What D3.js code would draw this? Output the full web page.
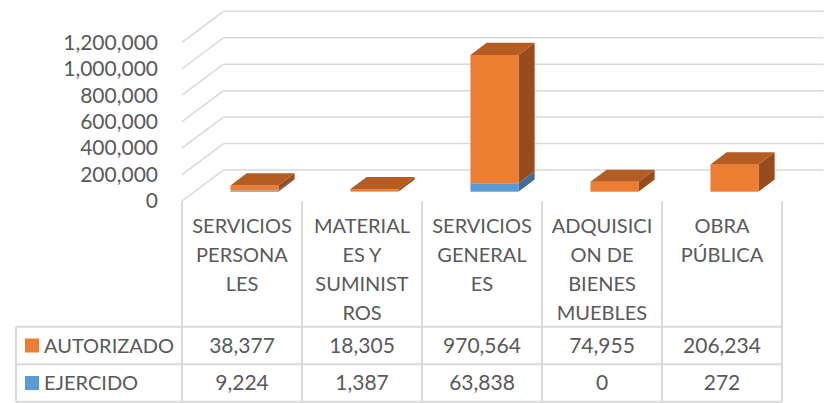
<!DOCTYPE html>
<html>
<head>
<meta charset="utf-8">
<script src="https://cdn.jsdelivr.net/npm/d3@7"></script>
<style>
  body { margin: 0; background: #fff; }
  text { font-family: Lato, "Open Sans", sans-serif; fill: #595959; }
</style>
</head>
<body>
<div id="chart"></div>
<script>
const categories = ["SERVICIOS PERSONALES", "MATERIALES Y SUMINISTROS", "SERVICIOS GENERALES", "ADQUISICION DE BIENES MUEBLES", "OBRA PÚBLICA"];
const categoryLines = [
    ["SERVICIOS", "PERSONA", "LES"],
    ["MATERIAL", "ES Y", "SUMINIST", "ROS"],
    ["SERVICIOS", "GENERAL", "ES"],
    ["ADQUISICI", "ON DE", "BIENES", "MUEBLES"],
    ["OBRA", "PÚBLICA"]
];
const seriesNames = ["AUTORIZADO", "EJERCIDO"];
const autorizado = [38377, 18305, 970564, 74955, 206234];
const ejercido = [9224, 1387, 63838, 0, 272];
const yTicks = [0, 200000, 400000, 600000, 800000, 1000000, 1200000];

const W = 826, H = 403;
const ORANGE = "#ED7D31", ORANGE_TOP = "#B55C22", ORANGE_SIDE = "#984C1B";
const BLUE = "#5B9BD5", BLUE_TOP = "#4A84B8", BLUE_SIDE = "#3F6E98";
const GRID = "#d9d9d9";

// depth vector of the 3D floor (front -> back)
const depth = { dx: 41.5, dy: -31 };
const barDepth = { t0: 0.3, t1: 0.69 };

const svg = d3.select("#chart").append("svg")
    .attr("width", W)
    .attr("height", H);

const x = d3.scaleBand()
    .domain(categories)
    .range([182, 782]);

const y = d3.scaleLinear()
    .domain([0, 1200000])
    .range([201, 42.3]);

const fmt = d3.format(",");

// Gridlines: side wall diagonal + back wall
let grid = svg.append("g");
yTicks.forEach(function (v) {
    let yf = y(v);
    grid.append("line")
        .attr("x1", 182).attr("y1", yf)
        .attr("x2", 182 + depth.dx).attr("y2", yf + depth.dy)
        .attr("stroke", GRID).attr("stroke-width", 1.5);
    grid.append("line")
        .attr("x1", 182 + depth.dx).attr("y1", yf + depth.dy)
        .attr("x2", 782 + depth.dx).attr("y2", yf + depth.dy)
        .attr("stroke", GRID).attr("stroke-width", 1.5);
});

// Value axis labels
svg.append("g").selectAll("text")
    .data(yTicks)
    .enter().append("text")
    .attr("x", 158)
    .attr("y", d => y(d))
    .attr("dy", "0.35em")
    .attr("text-anchor", "end")
    .style("font-size", "21px")
    .text(d => fmt(d));

// Bars
const barW = 48;
const ox0 = depth.dx * barDepth.t0, oy0 = depth.dy * barDepth.t0;
const bdx = depth.dx * (barDepth.t1 - barDepth.t0), bdy = depth.dy * (barDepth.t1 - barDepth.t0);

function box(g, x0, yb, yt, front, top, side, drawTop) {
    let x1 = x0 + barW;
    if (yb - yt <= 0 && !drawTop) return;
    g.append("polygon")
        .attr("points", [[x1, yb], [x1 + bdx, yb + bdy], [x1 + bdx, yt + bdy], [x1, yt]].join(" "))
        .attr("fill", side);
    g.append("rect")
        .attr("x", x0).attr("y", yt)
        .attr("width", barW).attr("height", Math.max(0, yb - yt))
        .attr("fill", front);
    if (drawTop) {
        g.append("polygon")
            .attr("points", [[x0, yt], [x1, yt], [x1 + bdx, yt + bdy], [x0 + bdx, yt + bdy]].join(" "))
            .attr("fill", top);
    }
}

let bars = svg.append("g");
categories.forEach(function (c, i) {
    let x0 = x(c) + x.bandwidth() / 2 - barW / 2 + ox0;
    let yb = y(0) + oy0;
    let yMid = y(ejercido[i]) + oy0;
    let yTop = y(ejercido[i] + autorizado[i]) + oy0;
    let g = bars.append("g");
    box(g, x0, yb, yMid, BLUE, BLUE_TOP, BLUE_SIDE, false);
    box(g, x0, yMid, yTop, ORANGE, ORANGE_TOP, ORANGE_SIDE, true);
});

// Data table
const tableTop = 201, headBottom = 326.7, row1Bottom = 364.3, row2Bottom = 401.7;
const tableLeft = 16, tableRight = 782;
let table = svg.append("g");

[headBottom, row1Bottom, row2Bottom].forEach(function (yy) {
    table.append("line")
        .attr("x1", tableLeft).attr("x2", tableRight)
        .attr("y1", yy).attr("y2", yy)
        .attr("stroke", GRID).attr("stroke-width", 2);
});
table.append("line")
    .attr("x1", tableLeft).attr("x2", tableLeft)
    .attr("y1", headBottom).attr("y2", row2Bottom)
    .attr("stroke", GRID).attr("stroke-width", 2);
categories.concat([null]).forEach(function (c, i) {
    let xx = i < categories.length ? x(c) : x.range()[1];
    table.append("line")
        .attr("x1", xx).attr("x2", xx)
        .attr("y1", tableTop).attr("y2", row2Bottom)
        .attr("stroke", GRID).attr("stroke-width", 2);
});

// Header labels (wrapped like the original)
categories.forEach(function (c, i) {
    let t = table.append("text")
        .attr("text-anchor", "middle")
        .style("font-size", "20px");
    categoryLines[i].forEach(function (line, j) {
        t.append("tspan")
            .attr("x", x(c) + x.bandwidth() / 2)
            .attr("y", 226 + j * 29)
            .attr("dy", "0.35em")
            .text(line);
    });
});

// Series rows
const rows = [
    { name: seriesNames[0], values: autorizado, color: ORANGE, cy: (headBottom + row1Bottom) / 2 },
    { name: seriesNames[1], values: ejercido, color: BLUE, cy: (row1Bottom + row2Bottom) / 2 }
];
rows.forEach(function (r) {
    table.append("rect")
        .attr("x", 25).attr("y", r.cy - 7)
        .attr("width", 14).attr("height", 14)
        .attr("fill", r.color);
    table.append("text")
        .attr("x", 44).attr("y", r.cy)
        .attr("dy", "0.35em")
        .style("font-size", "20px")
        .text(r.name);
    categories.forEach(function (c, i) {
        table.append("text")
            .attr("x", x(c) + x.bandwidth() / 2)
            .attr("y", r.cy)
            .attr("dy", "0.35em")
            .attr("text-anchor", "middle")
            .style("font-size", "21px")
            .text(fmt(r.values[i]));
    });
});
</script>
</body>
</html>
